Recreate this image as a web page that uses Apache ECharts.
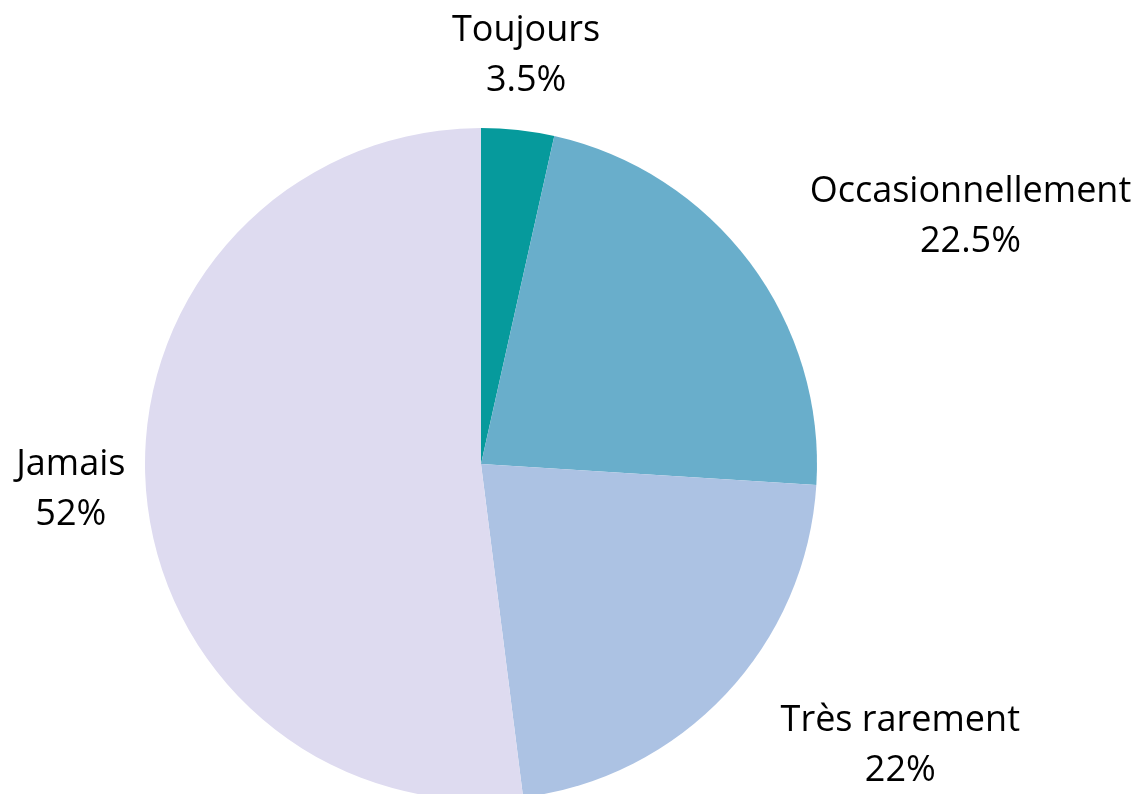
<!DOCTYPE html>
<html>
<head>
<meta charset="utf-8">
<script src="https://cdn.jsdelivr.net/npm/echarts@6/dist/echarts.min.js"></script>
<style>
  html, body { margin: 0; padding: 0; background: #fff; }
  #chart { width: 1145px; height: 794px; }
</style>
</head>
<body>
<div id="chart"></div>
<script>
var categories = ['Toujours', 'Occasionnellement', 'Très rarement', 'Jamais'];
var values = [3.5, 22.5, 22, 52];
var colors = ['#069a9c', '#69aecb', '#acc2e3', '#dedbf0'];

var cx = 481, cy = 464, radius = 336;
var labelR = radius + 75;

var total = values.reduce(function (a, b) { return a + b; }, 0);

// mid angle of each slice, clockwise from 12 o'clock
function midAngle(i) {
  var before = 0;
  for (var k = 0; k < i; k++) before += values[k];
  return 2 * Math.PI * (before + values[i] / 2) / total;
}

var chart = echarts.init(document.getElementById('chart'));
var option = {
  animation: false,
  series: [{
    type: 'pie',
    center: [cx, cy],
    radius: radius,
    startAngle: 90,
    clockwise: true,
    avoidLabelOverlap: false,
    itemStyle: { borderWidth: 0 },
    label: {
      show: true,
      position: 'outside',
      formatter: '{b}\n{c}%',
      fontFamily: 'Open Sans',
      fontSize: 36,
      lineHeight: 50,
      color: '#000'
    },
    labelLine: { show: false },
    labelLayout: function (p) {
      var a = midAngle(p.dataIndex);
      var ax = cx + labelR * Math.sin(a);
      var ay = cy - labelR * Math.cos(a);
      var w = p.labelRect.width, h = p.labelRect.height;
      // keep the label centred on its anchor unless it would cover the pie
      var nx = Math.max(ax - w / 2, Math.min(cx, ax + w / 2));
      var ny = Math.max(ay - h / 2, Math.min(cy, ay + h / 2));
      var x = ax;
      if (Math.hypot(nx - cx, ny - cy) < radius) {
        x = ax > cx ? ax + w / 2 : ax - w / 2;
      }
      return { x: x, y: ay, align: 'center', verticalAlign: 'middle' };
    },
    emphasis: { disabled: true },
    data: categories.map(function (name, i) {
      return { name: name, value: values[i], itemStyle: { color: colors[i] } };
    })
  }]
};

chart.setOption(option);

window.onresize = chart.resize;
</script>
</body>
</html>
